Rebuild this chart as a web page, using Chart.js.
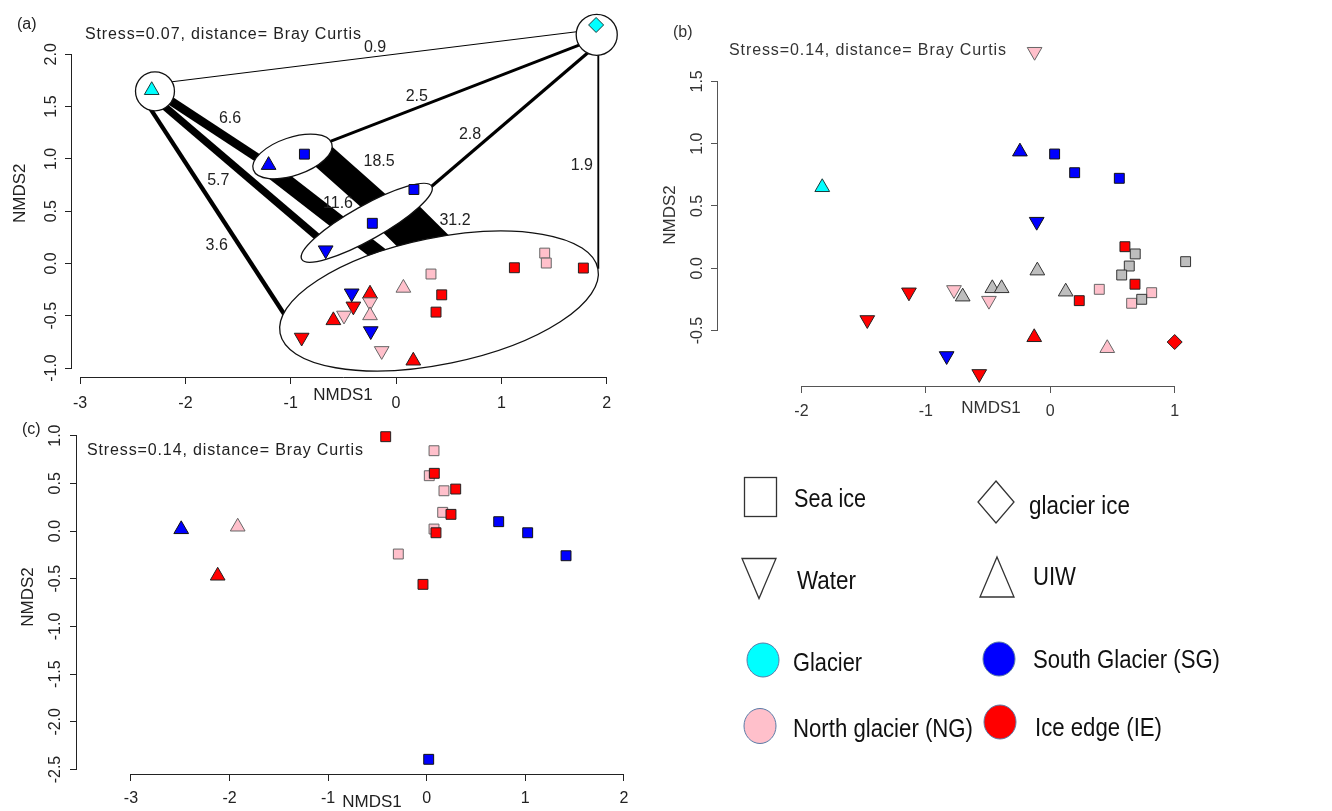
<!DOCTYPE html>
<html>
<head>
<meta charset="utf-8">
<title>NMDS ordinations</title>
<script src="https://cdn.jsdelivr.net/npm/chart.js@4.4.1/dist/chart.umd.min.js"></script>
<style>
  body { margin: 0; background: #fff; }
  #page { position: relative; width: 1332px; height: 811px; overflow: hidden; }
  .panel { position: absolute; }
  #overlay { position: absolute; left: 0; top: 0; pointer-events: none; }
</style>
</head>
<body>
<div id="page">
  <div class="panel" style="left:0;top:0;width:660px;height:420px"><canvas id="chartA"></canvas></div>
  <div class="panel" style="left:660px;top:0;width:672px;height:430px"><canvas id="chartB"></canvas></div>
  <div class="panel" style="left:0;top:410px;width:680px;height:411px"><canvas id="chartC"></canvas></div>

  <svg id="overlay" width="1332" height="811" font-family="Liberation Sans, Arial, sans-serif">
    <g fill="#222" font-size="16">
      <text x="17" y="29">(a)</text>
      <text x="85" y="39" textLength="276" lengthAdjust="spacing">Stress=0.07, distance= Bray Curtis</text>
      <text x="673" y="37" fill="#333">(b)</text>
      <text x="729" y="55" textLength="277" lengthAdjust="spacing" fill="#333">Stress=0.14, distance= Bray Curtis</text>
      <text x="22" y="434">(c)</text>
      <text x="87" y="455" textLength="276" lengthAdjust="spacing">Stress=0.14, distance= Bray Curtis</text>
    </g>
    <!-- legend -->
    <g stroke="#333" stroke-width="1.3" fill="#fff">
      <rect x="744.5" y="477.5" width="32" height="39"/>
      <polygon points="996,481 1014,502 996,523 978,502"/>
      <polygon points="742,558.5 776,558.5 759,598.5"/>
      <polygon points="997,557 1014,597 980,597"/>
    </g>
    <g stroke="#5a7ba6" stroke-width="1">
      <ellipse cx="763" cy="660" rx="16" ry="17" fill="#00FFFF"/>
      <ellipse cx="999" cy="659" rx="16" ry="17" fill="#0000FF"/>
      <ellipse cx="760" cy="726" rx="16" ry="17.5" fill="#FFC0CB"/>
      <ellipse cx="1000" cy="722" rx="16" ry="17" fill="#FF0000"/>
    </g>
    <g font-size="26" fill="#111">
      <text x="794" y="507" textLength="72" lengthAdjust="spacingAndGlyphs">Sea ice</text>
      <text x="1029" y="514" textLength="101" lengthAdjust="spacingAndGlyphs">glacier ice</text>
      <text x="797" y="589" textLength="59" lengthAdjust="spacingAndGlyphs">Water</text>
      <text x="1033" y="585" textLength="43" lengthAdjust="spacingAndGlyphs">UIW</text>
      <text x="793" y="671" textLength="69" lengthAdjust="spacingAndGlyphs">Glacier</text>
      <text x="1033" y="668" textLength="187" lengthAdjust="spacingAndGlyphs">South Glacier (SG)</text>
      <text x="793" y="737" textLength="180" lengthAdjust="spacingAndGlyphs">North glacier (NG)</text>
      <text x="1035" y="736" textLength="127" lengthAdjust="spacingAndGlyphs">Ice edge (IE)</text>
    </g>
  </svg>
</div>

<script>
Chart.defaults.font.family = "'Liberation Sans', Arial, sans-serif";

// ---- panel (a) samples ----
const aSite = ["Glacier", "Glacier", "SG", "SG", "SG", "SG", "SG", "SG", "SG",
  "NG", "NG", "NG", "NG", "NG", "NG", "NG", "NG",
  "IE", "IE", "IE", "IE", "IE", "IE", "IE", "IE", "IE"];
const aHabitat = ["UIW", "glacier ice", "UIW", "Sea ice", "Sea ice", "Sea ice", "Water", "Water", "Water",
  "Sea ice", "Sea ice", "Sea ice", "UIW", "Water", "UIW", "Water", "Water",
  "Sea ice", "Sea ice", "Sea ice", "Sea ice", "UIW", "Water", "UIW", "Water", "UIW"];
const aNMDS1 = [-2.32, 1.90, -1.21, -0.87, 0.17, -0.225, -0.668, -0.421, -0.24,
  1.412, 1.427, 0.332, 0.07, -0.247, -0.247, -0.494, -0.136,
  1.124, 1.779, 0.434, 0.38, -0.247, -0.405, -0.595, -0.896, 0.164];
const aNMDS2 = [1.656, 2.28, 0.94, 1.045, 0.707, 0.384, 0.127, -0.285, -0.646,
  0.099, 0.004, -0.101, -0.234, -0.37, -0.497, -0.497, -0.836,
  -0.041, -0.044, -0.30, -0.465, -0.29, -0.41, -0.544, -0.708, -0.93];

// group ellipses in panel (a): centre, semi-axes (NMDS units), tilt in degrees
const ellNMDS1 = [-2.289, 1.906, -0.983, -0.278, 0.408];
const ellNMDS2 = [1.646, 2.186, 1.023, 0.389, -0.359];
const ellSemiA = [0.185, 0.195, 0.393, 0.708, 1.54];
const ellSemiB = [0.185, 0.195, 0.18, 0.162, 0.60];
const ellTilt = [0, 0, 18.7, 29.3, 11.55];

// links between the groups
const edgeWeight = [0.9, 2.5, 2.8, 1.9, 6.6, 5.7, 3.6, 18.5, 11.6, 31.2];
const edgeStart1 = [-2.241, -0.912, 0.228, 1.921, -2.270, -2.270, -2.412, -0.741, -1.197, -0.009];
const edgeStart2 = [1.723, 1.055, 0.643, 2.115, 1.640, 1.563, 1.602, 1.070, 0.899, 0.481];
const edgeEnd1 = [1.842, 1.842, 1.880, 1.921, -1.178, -0.703, -0.950, 0.342, -0.104, 0.465];
const edgeEnd2 = [2.231, 2.128, 2.065, -0.050, 0.918, 0.216, -0.658, 0.102, 0.045, 0.007];
const edgeLabel1 = [-0.199, 0.197, 0.703, 1.764, -1.576, -1.688, -1.703, -0.161, -0.551, 0.560];
const edgeLabel2 = [2.067, 1.593, 1.229, 0.934, 1.387, 0.792, 0.168, 0.975, 0.576, 0.406];

// ---- panel (b) samples ----
const bSite = ["Glacier", "SG", "SG", "SG", "SG", "SG", "SG",
  "NG", "NG", "NG", "NG", "NG", "NG", "NG",
  "IE", "IE", "IE", "IE", "IE", "IE", "IE", "IE",
  "Other", "Other", "Other", "Other", "Other", "Other", "Other", "Other", "Other", "Other"];
const bHabitat = ["UIW", "UIW", "Sea ice", "Sea ice", "Sea ice", "Water", "Water",
  "Water", "Sea ice", "Sea ice", "Sea ice", "Water", "Water", "UIW",
  "Sea ice", "Sea ice", "Sea ice", "Water", "Water", "Water", "UIW", "glacier ice",
  "Sea ice", "Sea ice", "Sea ice", "Sea ice", "Sea ice", "UIW", "UIW", "UIW", "UIW", "UIW"];
const bNMDS1 = [-1.833, -0.244, 0.035, 0.196, 0.555, -0.109, -0.833,
  -0.126, 0.394, 0.815, 0.654, -0.774, -0.493, 0.458,
  0.60, 0.681, 0.233, -1.136, -1.471, -0.571, -0.129, 1.0,
  0.683, 1.088, 0.635, 0.574, 0.735, -0.104, 0.124, -0.704, -0.466, -0.391];
const bNMDS2 = [0.65, 0.936, 0.917, 0.767, 0.722, 0.374, -0.704,
  1.738, -0.169, -0.196, -0.281, -0.174, -0.26, -0.642,
  0.173, -0.128, -0.26, -0.193, -0.415, -0.848, -0.554, -0.592,
  0.115, 0.053, 0.018, -0.054, -0.249, -0.019, -0.188, -0.228, -0.161, -0.161];

// ---- panel (c) samples ----
const cSite = ["SG", "SG", "SG", "SG", "SG",
  "NG", "NG", "NG", "NG", "NG", "NG", "NG",
  "IE", "IE", "IE", "IE", "IE", "IE", "IE"];
const cHabitat = ["UIW", "Sea ice", "Sea ice", "Sea ice", "Sea ice",
  "UIW", "Sea ice", "Sea ice", "Sea ice", "Sea ice", "Sea ice", "Sea ice",
  "UIW", "Sea ice", "Sea ice", "Sea ice", "Sea ice", "Sea ice", "Sea ice"];
const cNMDS1 = [-2.49, 0.73, 1.024, 1.413, 0.02,
  -1.917, 0.074, 0.026, 0.175, 0.162, 0.074, -0.288,
  -2.12, -0.416, 0.077, 0.294, 0.246, 0.094, -0.038];
const cNMDS2 = [0.018, 0.098, -0.018, -0.259, -2.393,
  0.045, 0.842, 0.58, 0.422, 0.196, 0.021, -0.241,
  -0.469, 0.989, 0.605, 0.44, 0.175, -0.018, -0.559];

const siteFill = { Glacier: "#00FFFF", SG: "#0000FF", NG: "#FFC0CB", IE: "#FF0000", Other: "#BEBEBE" };
const siteLine = { Glacier: "#1a3a3a", SG: "#111", NG: "#666", IE: "#222", Other: "#333" };
const shapeOf = { "Sea ice": "rect", "Water": "triangle", "UIW": "triangle", "glacier ice": "rectRot" };
const sizeOf = { "Sea ice": 7, "Water": 8.5, "UIW": 8.5, "glacier ice": 7.5 };

function pointSets(sites, habitats, xs, ys, order) {
  return order.map(site => {
    const data = [];
    sites.forEach((s, i) => {
      if (s === site) data.push({ x: xs[i], y: ys[i], h: habitats[i] });
    });
    return {
      type: "scatter",
      label: site,
      data: data,
      backgroundColor: siteFill[site],
      borderColor: siteLine[site],
      borderWidth: 1,
      pointStyle: c => shapeOf[c.raw.h],
      pointRotation: c => (c.raw.h === "Water" ? 180 : 0),
      pointRadius: c => sizeOf[c.raw.h],
      clip: false,
    };
  }).filter(d => d.data.length);
}

// R-like axis line running only from first to last tick
const rAxisLine = {
  id: "rAxisLine",
  afterDraw(chart) {
    const { ctx, chartArea } = chart;
    const x = chart.scales.x, y = chart.scales.y;
    const col = chart.options.scales.x.grid.color;
    ctx.save();
    ctx.strokeStyle = col;
    ctx.lineWidth = 1;
    ctx.beginPath();
    const xt = x.ticks, yt = y.ticks;
    ctx.moveTo(x.getPixelForValue(xt[0].value), chartArea.bottom + 0.5);
    ctx.lineTo(x.getPixelForValue(xt[xt.length - 1].value), chartArea.bottom + 0.5);
    ctx.moveTo(chartArea.left - 0.5, y.getPixelForValue(yt[0].value));
    ctx.lineTo(chartArea.left - 0.5, y.getPixelForValue(yt[yt.length - 1].value));
    ctx.stroke();
    ctx.restore();
  }
};

function scalesFor(p) {
  return {
    x: {
      type: "linear", min: p.xMin, max: p.xMax,
      afterFit: s => { s.height = p.xH; s.paddingLeft = 0; s.paddingRight = 0; },
      border: { display: false },
      grid: { drawOnChartArea: false, tickLength: 7, color: p.axis },
      ticks: { stepSize: 1, includeBounds: false, autoSkip: false, maxRotation: 0, padding: p.xTickPad,
        color: p.text, font: { size: 16 }, callback: v => v.toFixed(0) },
      title: { display: true, text: "NMDS1", color: p.text, font: { size: 17 },
        padding: { top: 0, bottom: p.xTitlePad } }
    },
    y: {
      type: "linear", min: p.yMin, max: p.yMax,
      afterFit: s => { s.width = p.yW; s.paddingTop = 0; s.paddingBottom = 0; },
      border: { display: false },
      grid: { drawOnChartArea: false, tickLength: 7, color: p.axis },
      ticks: { stepSize: 0.5, includeBounds: false, autoSkip: false, minRotation: 90, maxRotation: 90,
        crossAlign: "center", padding: p.yTickPad, color: p.text, font: { size: 16 },
        callback: v => v.toFixed(1) },
      title: { display: true, text: "NMDS2", color: p.text, font: { size: 17 },
        padding: { top: p.yTitlePad, bottom: 0 } }
    }
  };
}

function baseOptions(p) {
  return {
    responsive: true,
    maintainAspectRatio: false,
    animation: false,
    events: [],
    layout: { padding: p.pad },
    plugins: { legend: { display: false }, tooltip: { enabled: false } },
    scales: scalesFor(p)
  };
}

// ---- panel (a): points, group ellipses and weighted links ----
const aPoints = pointSets(aSite, aHabitat, aNMDS1, aNMDS2, ["Glacier", "SG", "NG", "IE"]);
const firstEdge = aPoints.length;
const aEdges = edgeWeight.map((w, i) => ({
  type: "line",
  data: [{ x: edgeStart1[i], y: edgeStart2[i] }, { x: edgeEnd1[i], y: edgeEnd2[i] }],
  borderColor: "#000",
  borderWidth: Math.max(1, 1.45 * w - 0.9),
  borderCapStyle: "butt",
  pointRadius: 0,
  fill: false,
  clip: false,
}));

const groupShapes = {
  id: "groupShapes",
  afterDatasetDraw(chart, args) {
    if (args.index !== firstEdge) return;
    const { ctx } = chart;
    const x = chart.scales.x, y = chart.scales.y;
    const unit = x.getPixelForValue(1) - x.getPixelForValue(0);
    ctx.save();
    ctx.fillStyle = "#fff";
    ctx.strokeStyle = "#111";
    ctx.lineWidth = 1.3;
    ellNMDS1.forEach((cx, i) => {
      ctx.beginPath();
      ctx.ellipse(x.getPixelForValue(cx), y.getPixelForValue(ellNMDS2[i]),
        ellSemiA[i] * unit, ellSemiB[i] * unit, -ellTilt[i] * Math.PI / 180, 0, Math.PI * 2);
      ctx.fill();
      ctx.stroke();
    });
    ctx.restore();
  }
};

const edgeLabels = {
  id: "edgeLabels",
  afterDatasetsDraw(chart) {
    const { ctx } = chart;
    const x = chart.scales.x, y = chart.scales.y;
    ctx.save();
    ctx.fillStyle = "#222";
    ctx.font = "16px 'Liberation Sans', Arial, sans-serif";
    ctx.textAlign = "center";
    ctx.textBaseline = "middle";
    edgeWeight.forEach((w, i) => {
      ctx.fillText(w.toFixed(1), x.getPixelForValue(edgeLabel1[i]), y.getPixelForValue(edgeLabel2[i]));
    });
    ctx.restore();
  }
};

new Chart(document.getElementById("chartA"), {
  type: "scatter",
  data: { datasets: aPoints.concat(aEdges) },
  options: baseOptions({
    xMin: -3.077, xMax: 2.070, yMin: -1.0855, yMax: 2.428,
    xH: 43, yW: 72, pad: { left: 0, right: 46, top: 7, bottom: 0 },
    xTickPad: 10, xTitlePad: 14, yTickPad: 0, yTitlePad: 10,
    axis: "#222", text: "#222"
  }),
  plugins: [groupShapes, edgeLabels, rAxisLine]
});

// ---- panel (b) ----
new Chart(document.getElementById("chartB"), {
  type: "scatter",
  data: { datasets: pointSets(bSite, bHabitat, bNMDS1, bNMDS2, ["Other", "IE", "NG", "SG", "Glacier"]) },
  options: baseOptions({
    xMin: -2.671, xMax: 1.718, yMin: -0.945, yMax: 1.80,
    xH: 44, yW: 58, pad: { left: 0, right: 68, top: 44, bottom: 0 },
    xTickPad: 9, xTitlePad: 11, yTickPad: 0, yTitlePad: 0,
    axis: "#555", text: "#333"
  }),
  plugins: [rAxisLine]
});

// ---- panel (c) ----
new Chart(document.getElementById("chartC"), {
  type: "scatter",
  data: { datasets: pointSets(cSite, cHabitat, cNMDS1, cNMDS2, ["IE", "NG", "SG"]) },
  options: baseOptions({
    xMin: -3.547, xMax: 2.437, yMin: -2.547, yMax: 1.164,
    xH: 47, yW: 77, pad: { left: 0, right: 13, top: 10, bottom: 0 },
    xTickPad: 8, xTitlePad: 8, yTickPad: 1, yTitlePad: 18,
    axis: "#222", text: "#222"
  }),
  plugins: [rAxisLine]
});
</script>
</body>
</html>
